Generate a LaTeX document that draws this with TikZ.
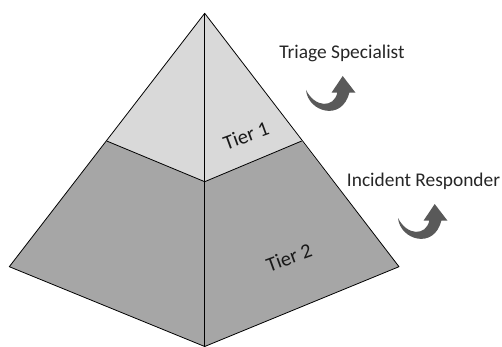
\documentclass[tikz,border=0pt]{standalone}
\usepackage{fontspec}
\setmainfont{Carlito}
\definecolor{tierlight}{HTML}{D9D9D9}
\definecolor{tierdark}{HTML}{A6A6A6}
\definecolor{arrowgray}{HTML}{595959}
\begin{document}
\begin{tikzpicture}[x=1pt,y=-1pt,
  face/.style={draw=black,line width=0.8pt,line join=round},
  lbl/.style={font=\fontsize{19.4}{23}\selectfont,text=black!85,inner sep=0pt},
  tier/.style={font=\fontsize{20.5}{24}\selectfont,text=black!90,inner sep=0pt,rotate=20}]
\useasboundingbox (0,0) rectangle (502,347);
\coordinate (apex) at (204.7,13.3);
\coordinate (L1) at (106.7,141);
\coordinate (C1) at (204.7,181.7);
\coordinate (R1) at (301.7,141);
\coordinate (LB) at (9.3,266.7);
\coordinate (B) at (204.7,346.5);
\coordinate (RB) at (399,266.7);
% top tier
\fill[tierlight] (apex) -- (L1) -- (C1) -- (R1) -- cycle;
% bottom tier
\fill[tierdark] (L1) -- (LB) -- (B) -- (RB) -- (R1) -- (C1) -- cycle;
\draw[face] (apex) -- (LB) -- (B) -- (RB) -- cycle;
\draw[face] (apex) -- (B);
\draw[face] (L1) -- (C1) -- (R1);
% labels
\node[tier] (t1) at (246,135.5) {Tier 1};
\node[tier] (t2) at (289,257.5) {Tier 2};
\node[lbl] (ts) at (342,53) {Triage Specialist};
\node[lbl] (ir) at (423.5,181) {Incident Responder};
% curved arrows
\foreach \ox/\oy/\nm in {300/70/a1,392/198/a2}{
  \fill[arrowgray,shift={(\ox pt,-\oy pt)}]
    (6,20) .. controls (8,42) and (42,52) .. (49.3,22.7)
    -- (55.5,22.7) -- (42.7,6) -- (31.5,22.7) -- (37.3,22.7)
    .. controls (34,38) and (15,38) .. (6,20) -- cycle;
}
\end{tikzpicture}
\end{document}
